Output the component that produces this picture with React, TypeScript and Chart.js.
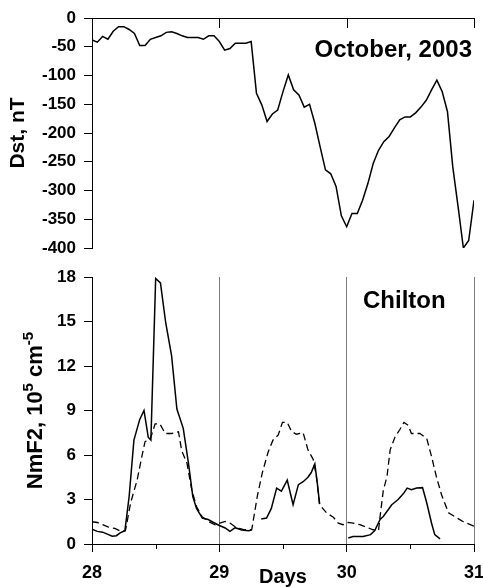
import React, { useEffect, useRef } from "react";
import { Chart, registerables } from "chart.js";

Chart.register(...registerables);

const FONT = "'Liberation Sans', Arial, Helvetica, sans-serif";
const START_DAY = 28;
const END_DAY = 31;

// Dst index (nT), hourly from 00 UT, 28 October 2003
const dstValues = [
  -38, -42, -32, -37, -23, -15, -15, -20, -27, -48, -48, -37, -34, -31, -25, -24,
  -27, -31, -34, -34, -34, -37, -31, -31, -41, -56, -53, -44, -44, -44, -41, -131,
  -151, -180, -167, -160, -128, -99, -125, -134, -155, -150, -183, -224, -264, -271, -293, -344,
  -363, -340, -340, -317, -288, -253, -230, -215, -206, -191, -177, -172, -172, -165, -155, -143,
  -125, -108, -128, -163, -259, -328, -400, -387, -317,
];

// Chilton NmF2 (10^5 cm^-3), observed; hours since 00 UT 28 Oct, null = data gap
const nmHours = [
  0, 1, 2, 3, 3.8, 4.6, 5.3, 6.2, 7, 7.9, 9, 9.8, 10.6, 11.1, 12, 12.9, 13.9, 15, 16, 17.2,
  18.2, 19, 19.7, 20.8, 21.9, 22.9, 24, 25.1, 26, 27, 28.2, 29.5, 30.1, 31, 31.9, 32.9, 33.8,
  34.8, 35.7, 36.8, 37.9, 38.9, 39.8, 40.7, 41.3, 42, 42.5, 42.9, 45, 48.3, 49.2, 51.1, 52.5,
  53.3, 54.3, 54.9, 56.5, 57.7, 58.7, 59.4, 60.2, 61.2, 62.3, 63.1, 64, 64.6, 65.6,
];
const nmObserved = [
  1.0, 0.85, 0.8, 0.65, 0.52, 0.56, 0.75, 0.9, 3.2, 7.0, 8.4, 9.0, 7.2, 7.0, 17.9, 17.6, 14.9, 12.7, 9.1, 7.8,
  5.4, 3.2, 2.4, 1.75, 1.65, 1.45, 1.25, 1.08, 0.85, 1.1, 0.95, 0.9, 0.95, null, 1.68, 1.75, 2.4,
  3.77, 3.56, 4.3, 2.65, 4.0, 4.2, 4.5, 4.8, 5.4, 4.0, 2.7, null, 0.4, 0.5, 0.5, 0.63,
  0.9, 1.65, 1.85, 2.65, 3.0, 3.4, 3.77, 3.66, 3.77, 3.8, 2.76, 1.4, 0.63, 0.34,
];

// Quiet-time median NmF2 (10^5 cm^-3)
const medHours = [
  0, 1, 2, 3, 4.3, 5.5, 6.3, 7.3, 8.5, 9.4, 10, 11, 11.9, 12.8, 13.8, 15, 16.3, 16.9, 17.9, 18.8,
  19.7, 20.7, 21.9, 23.2, 24.1, 25.1, 26, 27.3, 28.8, 30.1, 31.2, 32.1, 33.2, 34.1, 35.1, 35.9,
  36.8, 37.6, 38.5, 39.8, 40.7, 41.7, 42.3, 42.9, 44.2, 45.5, 46.4, 47.3, 48.3, 49.2, 50.5, 51.7,
  53, 54, 54.3, 54.9, 55.6, 56.2, 57.1, 58, 58.8, 59.6, 60.2, 61.8, 63.1, 64, 64.9, 65.9, 67.2,
  68.8, 70, 72,
];
const medValues = [
  1.5, 1.45, 1.3, 1.15, 1.05, 0.85, 0.9, 2.8, 4.3, 5.9, 6.9, 7.1, 8.1, 8.1, 7.45, 7.45, 7.57, 6.3, 5.45, 3.65,
  2.53, 1.86, 1.52, 1.3, 1.41, 1.52, 1.41, 1.08, 0.96, 0.96, 3.3, 4.8, 6.2, 7.0, 7.35, 8.2,
  8.2, 7.6, 7.4, 7.5, 6.35, 5.7, 4.55, 2.65, 2.1, 1.8, 1.41, 1.3, 1.46, 1.41, 1.3, 1.14,
  0.96, 0.9, 1.86, 3.6, 4.55, 6.35, 7.2, 7.7, 8.2, 8.0, 7.45, 7.45, 7.1, 5.9, 4.55, 3.3, 2.1,
  1.75, 1.5, 1.2,
];

const dayTicks = [29, 30, 31];
const halfDayTicks = [28.5, 29.5, 30.5];

const toDay = (h: number) => START_DAY + h / 24;

// short tick marks drawn from an x axis edge into (or out of) the plot
const edgeTicks = (id: string, values: number[], edge: "top" | "bottom", len: number) => ({
  id,
  afterDraw(chart: any) {
    const { ctx, chartArea } = chart;
    const s = chart.scales.x;
    const y0 = edge === "top" ? chartArea.top : chartArea.bottom;
    ctx.save();
    ctx.strokeStyle = "#000";
    ctx.lineWidth = 1;
    values.forEach((v) => {
      const x = Math.round(s.getPixelForValue(v)) + 0.5;
      ctx.beginPath();
      ctx.moveTo(x, y0);
      ctx.lineTo(x, y0 + len);
      ctx.stroke();
    });
    ctx.restore();
  },
});

const label = (id: string, text: string, dx: number, dy: number, align: CanvasTextAlign, fromRight: boolean) => ({
  id,
  afterDraw(chart: any) {
    const { ctx, chartArea } = chart;
    ctx.save();
    ctx.font = `bold 24px ${FONT}`;
    ctx.fillStyle = "#000";
    ctx.textAlign = align;
    ctx.textBaseline = "alphabetic";
    const x = fromRight ? chartArea.right + dx : chartArea.left + dx;
    ctx.fillText(text, x, chartArea.top + dy);
    ctx.restore();
  },
});

// rotated y title with superscript exponents
const nmTitle = {
  id: "nmTitle",
  afterDraw(chart: any) {
    const { ctx, chartArea } = chart;
    const parts: [string, boolean][] = [
      ["NmF2, 10", false],
      ["5", true],
      [" cm", false],
      ["-5", true],
    ];
    const big = `bold 22px ${FONT}`;
    const small = `bold 15px ${FONT}`;
    ctx.save();
    let total = 0;
    parts.forEach(([t, sup]) => {
      ctx.font = sup ? small : big;
      total += ctx.measureText(t).width;
    });
    const cy = (chartArea.top + chartArea.bottom) / 2;
    ctx.translate(42, cy + total / 2);
    ctx.rotate(-Math.PI / 2);
    ctx.fillStyle = "#000";
    ctx.textBaseline = "alphabetic";
    ctx.textAlign = "left";
    let x = 0;
    parts.forEach(([t, sup]) => {
      ctx.font = sup ? small : big;
      ctx.fillText(t, x, sup ? -9 : 0);
      x += ctx.measureText(t).width;
    });
    ctx.restore();
  },
};

const tickFontY = { family: FONT, size: 17, weight: "bold" as const };

// keep the plot edges fixed regardless of label overhang
const fixX = (height: number) => (s: any) => {
  s.height = height;
  s.paddingLeft = 0;
  s.paddingRight = 0;
};
const fixY = (s: any) => {
  s.width = 92;
  s.paddingTop = 0;
  s.paddingBottom = 0;
};

export default function App() {
  const topRef = useRef<HTMLCanvasElement>(null);
  const botRef = useRef<HTMLCanvasElement>(null);

  useEffect(() => {
    const dstChart = new Chart(topRef.current!, {
      type: "line",
      data: {
        datasets: [
          {
            data: dstValues.map((v, i) => ({ x: toDay(i), y: v })),
            borderColor: "#000",
            borderWidth: 1.5,
            pointRadius: 0,
            tension: 0,
          },
        ],
      },
      options: {
        responsive: false,
        animation: false,
        devicePixelRatio: 1,
        layout: { autoPadding: false, padding: { left: 0, right: 9, top: 0, bottom: 14 } },
        plugins: { legend: { display: false }, tooltip: { enabled: false } },
        scales: {
          x: {
            type: "linear",
            position: "top",
            min: START_DAY,
            max: END_DAY,
            ticks: { display: false, stepSize: 1 },
            grid: { display: false, drawTicks: false },
            border: { display: true, color: "#000", width: 1 },
            afterFit: fixX(18),
          },
          y: {
            min: -400,
            max: 0,
            ticks: {
              stepSize: 25,
              padding: 8,
              color: "#000",
              font: tickFontY,
              callback: (v: any) => (Number(v) % 50 === 0 ? String(v) : ""),
            },
            grid: { drawOnChartArea: false, tickLength: 8, color: "#000" },
            border: { display: true, color: "#000", width: 1 },
            title: {
              display: true,
              text: "Dst, nT",
              color: "#000",
              font: { family: FONT, size: 21, weight: "bold" },
              padding: { top: 6, bottom: 0 },
            },
            afterFit: fixY,
          },
        },
      },
      plugins: [
        edgeTicks("dayTicksTop", dayTicks, "top", 10),
        label("monthLabel", "October, 2003", -2, 39, "right", true),
      ],
    });

    const nmChart = new Chart(botRef.current!, {
      type: "line",
      data: {
        datasets: [
          {
            data: nmHours.map((h, i) => ({ x: toDay(h), y: nmObserved[i] })),
            borderColor: "#000",
            borderWidth: 1.5,
            pointRadius: 0,
            tension: 0,
            spanGaps: false,
          },
          {
            data: medHours.map((h, i) => ({ x: toDay(h), y: medValues[i] })),
            borderColor: "#000",
            borderWidth: 1.3,
            borderDash: [7, 4],
            pointRadius: 0,
            tension: 0,
          },
        ],
      },
      options: {
        responsive: false,
        animation: false,
        devicePixelRatio: 1,
        layout: { autoPadding: false, padding: { left: 0, right: 9, top: 19, bottom: 0 } },
        plugins: { legend: { display: false }, tooltip: { enabled: false } },
        scales: {
          x: {
            type: "linear",
            min: START_DAY,
            max: END_DAY,
            ticks: {
              stepSize: 1,
              padding: 10,
              color: "#000",
              maxRotation: 0,
              autoSkip: false,
              font: { family: FONT, size: 18, weight: "bold" },
            },
            grid: {
              tickLength: 8,
              tickColor: "#000",
              color: (c: any) => (c.tick && c.tick.value !== START_DAY ? "#7a7a7a" : "rgba(0,0,0,0)"),
            },
            border: { display: true, color: "#000", width: 1 },
            title: {
              display: true,
              text: "Days",
              color: "#000",
              font: { family: FONT, size: 20, weight: "bold", lineHeight: 1 },
              padding: { top: 0, bottom: 0 },
            },
            afterFit: fixX(43),
          },
          y: {
            min: 0,
            max: 18,
            ticks: {
              stepSize: 1.5,
              padding: 8,
              color: "#000",
              font: tickFontY,
              callback: (v: any) => (Number(v) % 3 === 0 ? String(v) : ""),
            },
            grid: { drawOnChartArea: false, tickLength: 8, color: "#000" },
            border: { display: true, color: "#000", width: 1 },
            afterFit: fixY,
          },
        },
      },
      plugins: [
        edgeTicks("halfDayTicks", halfDayTicks, "bottom", 5),
        label("stationLabel", "Chilton", 271, 31, "left", false),
        nmTitle,
      ],
    });

    return () => {
      dstChart.destroy();
      nmChart.destroy();
    };
  }, []);

  return (
    <div style={{ position: "absolute", left: 0, top: 0, width: 483, height: 587, background: "#fff" }}>
      <canvas ref={topRef} width={483} height={262} style={{ position: "absolute", left: 0, top: 0 }} />
      <canvas ref={botRef} width={483} height={329} style={{ position: "absolute", left: 0, top: 258 }} />
    </div>
  );
}
